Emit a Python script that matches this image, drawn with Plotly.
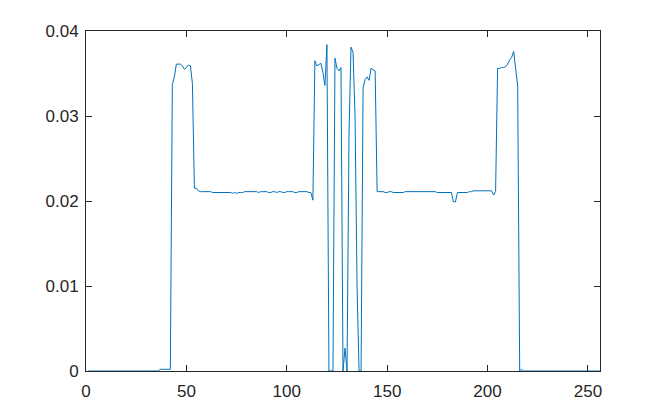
import plotly.graph_objects as go

# ---- data (sample index 1..256) ----
baseline_left = [0.0] * 36 + [0.0002] * 6                      # idx 1-42
peak_left = [0.0337, 0.0346, 0.0361, 0.0361, 0.0361, 0.0359, 0.0355,
             0.0357, 0.0360, 0.0359, 0.0338, 0.0215, 0.0215, 0.0212]  # idx 43-56
plateau_left = [0.0211, 0.0211, 0.0211, 0.0211, 0.0211, 0.0211, 0.0210, 0.0210,
                0.0210, 0.0210, 0.0210, 0.0210, 0.0210, 0.0210, 0.0210, 0.0210,
                0.0209, 0.0210, 0.0209, 0.0210, 0.0210, 0.0210, 0.0211, 0.0211,
                0.0211, 0.0211, 0.0211, 0.0211, 0.0211, 0.0210, 0.0211, 0.0211,
                0.0211, 0.0211, 0.0210, 0.0210, 0.0211, 0.0211, 0.0210, 0.0211,
                0.0211, 0.0210, 0.0210, 0.0211, 0.0211, 0.0211, 0.0211, 0.0210,
                0.0210, 0.0211, 0.0211, 0.0211, 0.0211, 0.0211, 0.0210, 0.0210]  # idx 57-112
center = [0.0201, 0.0365, 0.0359, 0.0361, 0.0362, 0.0351, 0.0336, 0.0384,
          0.0, 0.0, 0.0, 0.0368, 0.0356, 0.0353, 0.0357, 0.0, 0.0027, 0.0,
          0.0280, 0.0381, 0.0375, 0.0300, 0.0100, 0.0, 0.0, 0.0333, 0.0343,
          0.0346, 0.0342, 0.0356, 0.0354, 0.0353]                      # idx 113-144
plateau_right = [0.0211, 0.0211, 0.0211, 0.0211, 0.0210, 0.0210, 0.0211, 0.0211,
                 0.0210, 0.0210, 0.0210, 0.0210, 0.0210, 0.0210, 0.0211, 0.0211,
                 0.0211, 0.0211, 0.0211, 0.0211, 0.0211, 0.0211, 0.0211, 0.0211,
                 0.0211, 0.0211, 0.0211, 0.0211, 0.0211, 0.0211, 0.0210, 0.0210,
                 0.0210, 0.0210, 0.0210, 0.0210, 0.0210, 0.0210, 0.0199, 0.0199,
                 0.0210, 0.0210, 0.0210, 0.0210, 0.0210, 0.0210, 0.0211, 0.0211,
                 0.0212, 0.0212, 0.0212, 0.0212, 0.0212, 0.0212, 0.0212, 0.0212,
                 0.0212, 0.0212, 0.0207, 0.0211]                        # idx 145-204
peak_right = [0.0356, 0.0356, 0.0357, 0.0357, 0.0358, 0.0361, 0.0366, 0.0369,
              0.0376, 0.0355, 0.0335]                                  # idx 205-215
baseline_right = [0.0, 0.0002] + [0.0] * 39                          # idx 216-256

values = baseline_left + peak_left + plateau_left + center + plateau_right + peak_right + baseline_right
samples = list(range(1, len(values) + 1))

x_ticks = [0, 50, 100, 150, 200, 250]
y_ticks = [0, 0.01, 0.02, 0.03, 0.04]
y_tick_labels = ["0", "0.01", "0.02", "0.03", "0.04"]

axis_color = "#262626"
font = dict(family="Liberation Sans, Arial, sans-serif", size=17, color=axis_color)

fig = go.Figure(go.Scatter(x=samples, y=values, mode="lines",
                           line=dict(color="#0072BD", width=1)))

axis_common = dict(showgrid=False, zeroline=False, showline=True, linecolor=axis_color,
                   linewidth=1, mirror="ticks", ticks="inside", ticklen=6,
                   tickcolor=axis_color, tickwidth=1, tickfont=font)

fig.update_xaxes(range=[0, 256], tickvals=x_ticks, ticklabelstandoff=5, **axis_common)
fig.update_yaxes(range=[0, 0.04], tickvals=y_ticks, ticktext=y_tick_labels,
                 ticklabelstandoff=3, **axis_common)

# the page body adds an 8px offset; margins compensate so the plot box sits at 86..600 x 31..371
fig.update_layout(width=663, height=417, margin=dict(l=78, r=71, t=23, b=54),
                  paper_bgcolor="white", plot_bgcolor="white", showlegend=False,
                  font=font)

fig.write_html("out.html")
